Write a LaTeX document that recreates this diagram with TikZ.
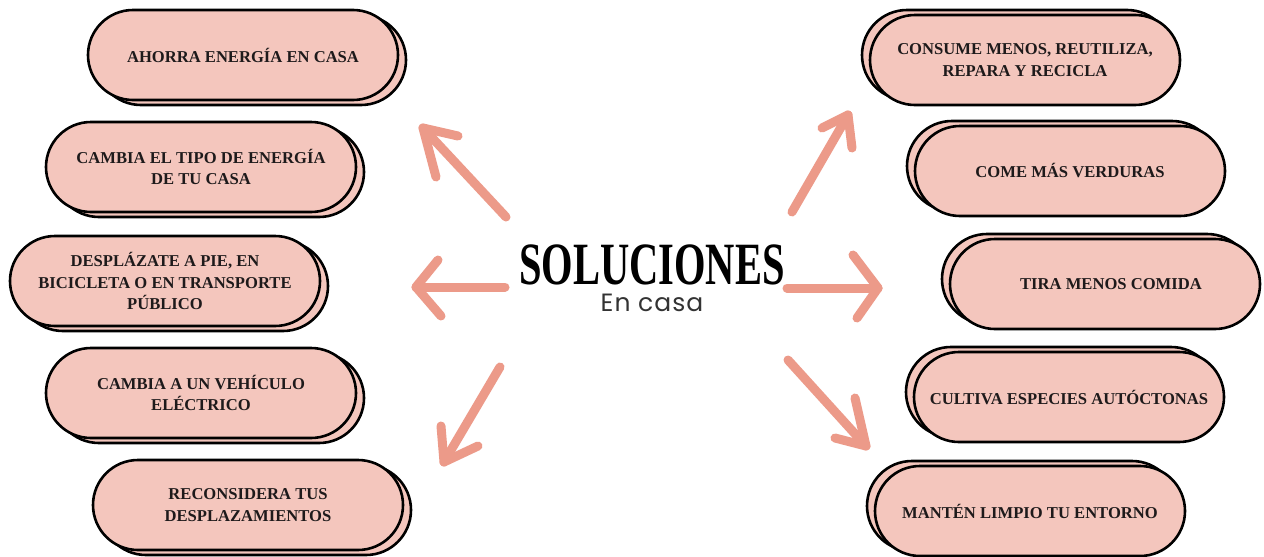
\documentclass[tikz,border=0pt]{standalone}
\usepackage{fontspec}
\setmainfont{Liberation Serif}
\newfontfamily\subfont[LetterSpace=4]{Poppins}
\usetikzlibrary{shapes.misc}
\definecolor{pillfill}{HTML}{F4C6BD}
\definecolor{arrowc}{HTML}{EC9A89}
\definecolor{inkc}{HTML}{1E1A1B}
\begin{document}
\begin{tikzpicture}[x=1pt,y=-1pt,
  pill/.style={rounded rectangle, draw=black, line width=2.6pt, fill=pillfill,
    minimum width=310pt, minimum height=90pt, inner sep=0pt, align=center,
    text=inkc, font=\bfseries\fontsize{16.6}{21.5}\selectfont},
  arr/.style={draw=arrowc, line width=9pt, line cap=round, line join=round}]
\useasboundingbox[fill=white] (0,0) rectangle (1264,557);

% left pills (back copy shifted right/down)
\node[pill] (L1b) at (251,60) {};
\node[pill] (L1) at (243,55) {AHORRA ENERGÍA EN CASA};
\node[pill] (L2b) at (209,172) {};
\node[pill] (L2) at (201,167) {CAMBIA EL TIPO DE ENERGÍA\\DE TU CASA};
\node[pill] (L3b) at (173,286) {};
\node[pill] (L3) at (165,281) {DESPLÁZATE A PIE, EN\\BICICLETA O EN TRANSPORTE\\PÚBLICO};
\node[pill] (L4b) at (209,398) {};
\node[pill] (L4) at (201,393) {CAMBIA A UN VEHÍCULO\\ELÉCTRICO};
\node[pill] (L5b) at (256,510) {};
\node[pill] (L5) at (248,505) {RECONSIDERA TUS\\DESPLAZAMIENTOS};

% right pills (back copy shifted left/up)
\node[pill] (R1b) at (1017,55) {};
\node[pill] (R1) at (1025,60) {CONSUME MENOS, REUTILIZA,\\REPARA Y RECICLA};
\node[pill] (R2b) at (1062,166) {};
\node[pill] (R2) at (1070,171) {COME MÁS VERDURAS};
\node[pill] (R3b) at (1097,279) {};
\node[pill] (R3) at (1105,284) {\hspace*{12pt}TIRA MENOS COMIDA};
\node[pill] (R4b) at (1061,392) {};
\node[pill] (R4) at (1069,397) {CULTIVA ESPECIES AUTÓCTONAS};
\node[pill] (R5b) at (1022,506) {};
\node[pill] (R5) at (1030,511) {MANTÉN LIMPIO TU ENTORNO};

% title
\node[anchor=base, text=black, inner sep=0pt] (title) at (652,284)
  {\scalebox{0.675}[1]{\fontsize{60}{60}\selectfont\bfseries SOLUCIONES}};
\node[anchor=base, text=black!80, inner sep=0pt] (sub) at (652,311)
  {\subfont\fontsize{25}{25}\selectfont En casa};

% arrows
\coordinate (a1t) at (506,217); \coordinate (a1h) at (423,128);
\coordinate (a1l) at (458,136); \coordinate (a1r) at (436,177);
\coordinate (a2t) at (505,287); \coordinate (a2h) at (416,287);
\coordinate (a2l) at (438,260); \coordinate (a2r) at (441,316);
\coordinate (a3t) at (500,367); \coordinate (a3h) at (444,462);
\coordinate (a3l) at (441,426); \coordinate (a3r) at (478,446);
\coordinate (a4t) at (792,212); \coordinate (a4h) at (848,115);
\coordinate (a4l) at (822,128); \coordinate (a4r) at (852,148);
\coordinate (a5t) at (787,288); \coordinate (a5h) at (878,288);
\coordinate (a5l) at (853,255); \coordinate (a5r) at (857,318);
\coordinate (a6t) at (788,360); \coordinate (a6h) at (866,446);
\coordinate (a6l) at (855,398); \coordinate (a6r) at (835,438);
\foreach \k in {1,...,6}{
  \draw[arr] (a\k t) -- (a\k h);
  \draw[arr] (a\k l) -- (a\k h) -- (a\k r);
}
\end{tikzpicture}
\end{document}
